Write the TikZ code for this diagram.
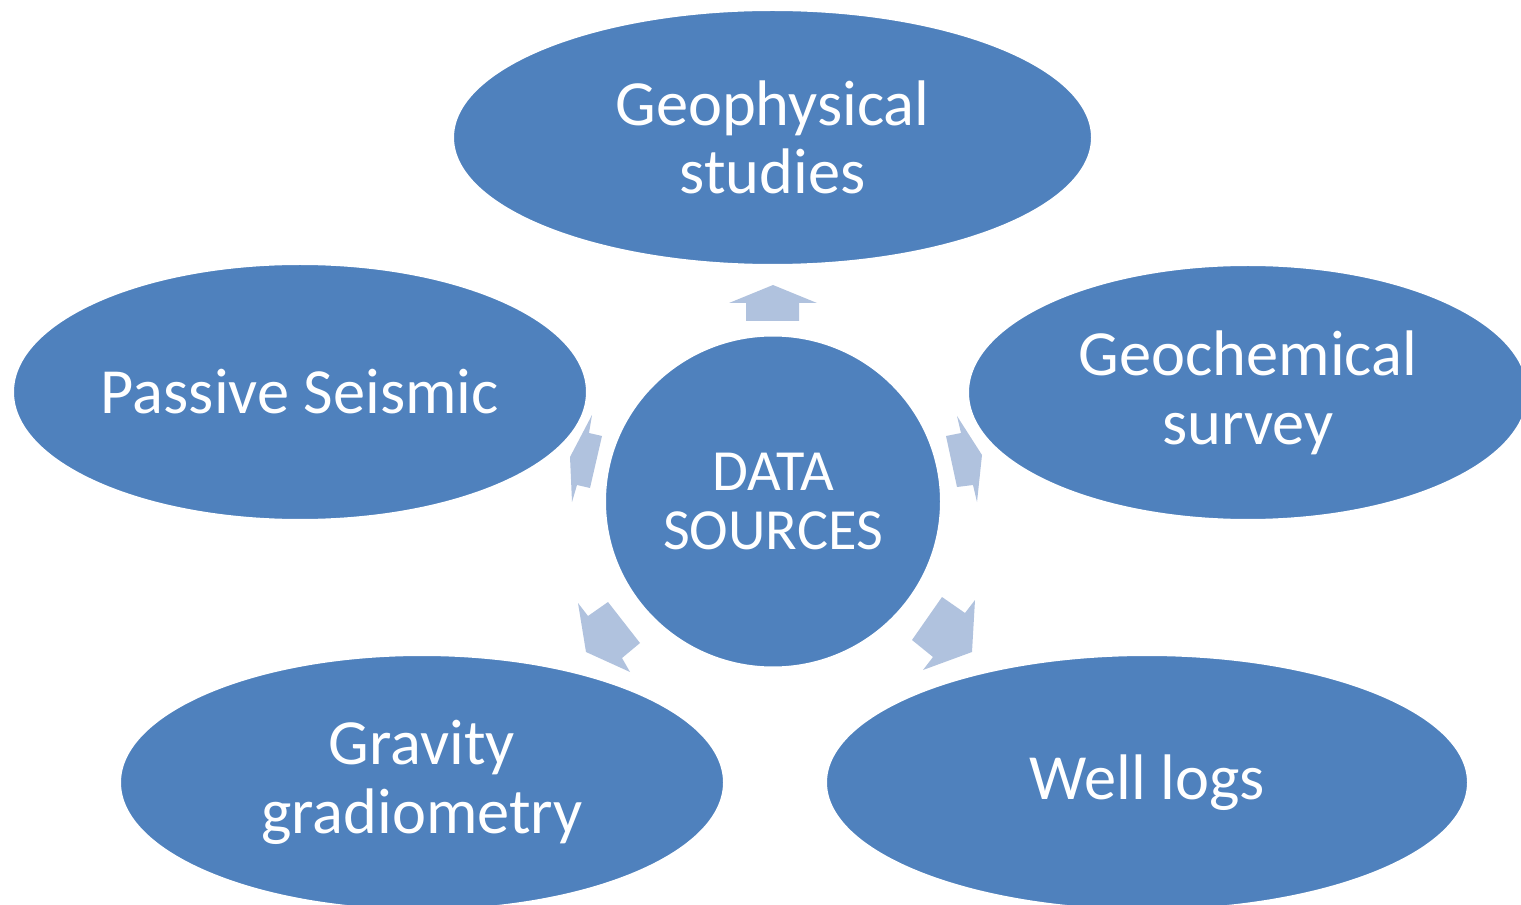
\documentclass[tikz,border=0pt]{standalone}
\usepackage{fontspec}
\setmainfont{Carlito}
\usetikzlibrary{shapes.geometric}

\definecolor{bubblefill}{HTML}{4F81BD}
\definecolor{arrowfill}{HTML}{B0C2DE}

\tikzset{
  bubble/.style={ellipse, fill=bubblefill, draw=white, line width=1.5pt,
    inner sep=0pt, text=white, align=center,
    font=\fontsize{48.3}{51.5}\selectfont},
  hub/.style={bubble, font=\fontsize{43.7}{44}\selectfont},
  blockarrow/.style={fill=arrowfill, draw=none},
}

\begin{document}
\begin{tikzpicture}[x=0.75pt,y=0.75pt,yscale=-1,xscale=1]
\useasboundingbox (0,0) rectangle (1521,905);

% block arrows out of the hub
\fill[blockarrow] (773,285) -- (817,303) -- (799,303) -- (799,321) -- (746,321) -- (746,303) -- (729,303) -- cycle;
\fill[blockarrow] (592,415) -- (589,433) -- (602,436) -- (590,488) -- (577,485) -- (572,502) -- (570,457) -- cycle;
\fill[blockarrow] (957,416) -- (961,433) -- (946,436) -- (957,487) -- (973,485) -- (977,502) -- (982,455) -- cycle;
\fill[blockarrow] (578,603) -- (588,616) -- (608,602) -- (640,643) -- (622,658) -- (630,672) -- (586,652) -- cycle;
\fill[blockarrow] (972,652) -- (975,600) -- (965,613) -- (942,597) -- (912,640) -- (933,657) -- (923,670) -- cycle;

% hub
\node[hub, minimum width=252pt, minimum height=249pt] (sources) at (773,501.5) {DATA\\SOURCES};

% outer bubbles
\node[bubble, minimum width=479.25pt, minimum height=191.25pt] (geophys) at (772.5,137.5) {Geophysical\\studies};
\node[bubble, minimum width=430.5pt, minimum height=192pt] (passive) at (300,392) {Passive Seismic};
\node[bubble, minimum width=420pt, minimum height=191.25pt] (geochem) at (1248,392.5) {Geochemical\\survey};
\node[bubble, minimum width=453pt, minimum height=191.25pt] (gravity) at (422,782.5) {Gravity\\gradiometry};
\node[bubble, minimum width=481.5pt, minimum height=191.25pt] (welllogs) at (1147,782.5) {Well logs};
\end{tikzpicture}
\end{document}
